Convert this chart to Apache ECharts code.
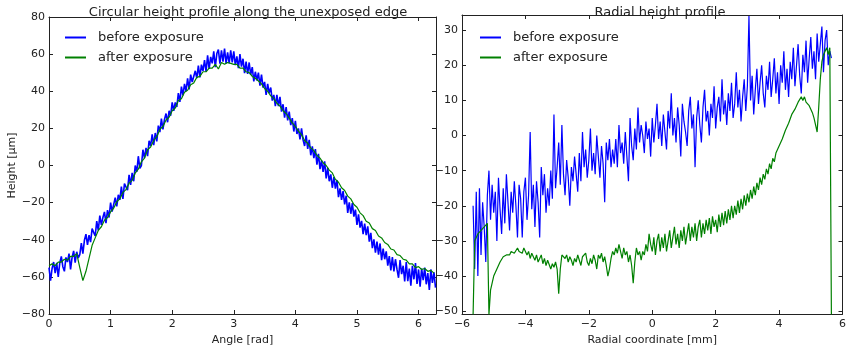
<!DOCTYPE html>
<html>
<head>
<meta charset="utf-8">
<script src="https://cdn.jsdelivr.net/npm/echarts@6/dist/echarts.min.js"></script>
<style>
  html, body { margin: 0; padding: 0; background: #fff; }
  #chart { width: 849px; height: 351px; }
</style>
</head>
<body>
<div id="chart"></div>
<script>
// ---- Circular profile (left panel): sampled along the edge angle ----
const angleStartBefore = 0;
const angleStepBefore = 0.025;
const circularBefore = [
  -55, -62, -55.5, -52, -58, -52.5, -60, -52.5, -49, -54.5, -57, -49.5, -52, -47.5, -56, -49.5,
  -46, -52.3, -46.5, -49.8, -48, -41.8, -47.5, -40.3, -37, -42.8, -37.5, -41.3, -34, -36, -38, -30,
  -35, -27, -32, -28, -25, -31, -24, -28, -20, -24.8, -25.5, -17.3, -22, -15.8, -18.5, -11.3,
  -18, -9.8, -11.5, -13.3, -5, -10.5, -4, -8.5, 0, -3.5, 5, -1.5, 0, 8.5, 4, 9.5,
  5, 13.3, 10.5, 16.8, 11, 17.5, 13, 21.5, 18, 25.3, 19.5, 24.8, 28, 23.3, 29.5, 26.8,
  34, 29.5, 34, 31.5, 39, 34.3, 42.5, 37.8, 44, 40, 47, 41, 49, 45, 44, 51,
  47, 53.8, 47.5, 54.3, 51, 56.8, 50.5, 59.3, 52, 58.5, 55, 61.5, 53, 60.3, 62.5, 54.8,
  62, 56, 63, 55, 61, 55, 62, 55.6, 61.5, 54.1, 58.8, 52.4, 60, 53.3, 57.5, 49.8,
  56, 49.3, 55.5, 48.8, 53, 45.3, 50.5, 45.8, 50, 43, 49, 42, 45, 38, 44, 39,
  42, 35, 38, 32, 38, 32, 37, 29, 33, 25.8, 31.5, 24.3, 29, 21.8, 25.5, 18.3,
  24, 17, 20, 14, 20, 13.8, 10.5, 16.3, 9, 13.8, 5.5, 10.3, 4, 8.8, 0.5, 6.3,
  -2, 2.8, -3.5, 2.2, -7, -1.3, -8.5, -4.8, -12, -6.3, -12.5, -7.8, -17, -12.3, -18.5, -13.8,
  -21, -16.3, -25.5, -19.8, -26, -20.3, -27.5, -23.8, -32, -26.3, -33.5, -29.8, -37, -31.3, -37.5, -32.8,
  -41, -36.3, -44.5, -39.8, -47, -41, -48, -42, -51, -44.8, -50.5, -46.3, -54, -48.8, -56.5, -49.3,
  -57, -50.5, -56, -60.5, -51, -58.5, -54, -62.5, -52, -62.3, -55.5, -64.8, -54, -61.3, -52.5, -63.8,
  -56, -65.3, -55.5, -61.8, -55, -64, -58, -67, -56, -63.3, -57.5, -65.8
];

const angleStartAfter = 0;
const angleStepAfter = 0.05;
const circularAfter = [
  -54, -53, -54, -52, -52, -50.5, -51, -49, -49, -47.5,
  -55, -62, -57, -50, -43, -39, -35, -33, -29.5, -28,
  -25, -23, -19.5, -18, -14.5, -13, -9.5, -8, -4, -2,
  2, 4, 8.5, 10, 13.5, 15.5, 19.5, 21, 24.5, 26,
  29.5, 31, 35, 36, 39.5, 40.5, 43.5, 44.5, 47.5, 48,
  50.5, 50.5, 52.5, 52.5, 54.5, 52, 55.5, 54.5, 55.5, 55,
  54.5, 54.5, 52.5, 52.5, 50.5, 50, 48, 47, 45.5, 44,
  41.5, 40, 37.5, 36, 33.5, 32, 29.5, 28, 25.5, 23,
  21, 18.5, 16.5, 13.5, 12, 9.5, 8, 5.5, 4, 1.5,
  0, -2.5, -4, -7.5, -9, -12, -13.5, -16.5, -18, -21,
  -22.5, -25.5, -27, -30, -31, -34, -35, -38, -39, -41.5,
  -42.5, -45, -45.5, -48, -48.5, -50.5, -51, -53, -53, -55,
  -54.5, -56, -55.5, -57, -56.5, -58
];

// ---- Radial profile (right panel): sampled along the radius ----
const radialStart = -5.65;
const radialStep = 0.05;
const radialBefore = [
  -20, -38, -16, -40, -15, -34, -19, -26, -36, -17,
  -10, -24, -14, -22, -16, -30, -12, -21, -28, -15,
  -25, -11, -19, -27, -16, -22, -13, -20, -29, -14,
  -18, -29, -16, -12, -24, -17, 1, -21, -14, -26,
  -13, -19, -29, -9, -17, -11, -22, -15, -20, -10,
  -18, 6, -15, -9, -2, -14, 3, -11, -17, -7,
  -12, -20, -9, -13, -6, -11, -16, -5, -13, 1,
  -9, -4, -12, -7, 2, -10, -5, -11, 0, -6,
  -12, -3, -8, -19, -2, -7, -1, -9, -4, -8,
  -1, -9, 3, -5, -2, -8, 1, -6, -13, 5,
  -3, -7, 2, -4, 8, -2, 3, 0, -5, 4,
  -1, 2, -6, 5, -2, 3, 9, -1, 4, -3,
  6, 1, -4, 7, 2, 12, 0, 5, -2, 8,
  3, -6, 9, 4, 1, -3, 7, 11, 2, 6,
  -9, 5, 10, 3, -2, 8, 13, 4, 7, 0,
  9, 5, 14, 2, 8, 11, 4, 16, 6, 10,
  3, 12, 7, 15, 5, 9, 18, 8, 13, 4,
  11, 16, 7, 14, 34, 10, 17, 6, 13, 19,
  9, 15, 20, 12, 8, 17, 13, 21, 11, 16,
  22, 12, 18, 9, 20, 15, 24, 13, 19, 11,
  21, 16, 25, 14, 20, 26, 17, 12, 23, 18,
  27, 15, 22, 28, 19, 24, 16, 29, 21, 26,
  31, 18, 27, 30, 20, 24, 22
];
const radialAfter = [
  -51, -30, -29, -28, -27.5, -27, -26.5, -26, -25.5, -25,
  -51, -44, -42, -40, -39, -38, -37, -36, -35.5, -34.5,
  -35, -34, -33.5, -34, -33, -32.5, -33.5, -33, -32, -33,
  -32.5, -33.5, -32, -33, -34, -33, -35, -33.5, -34.5, -35.5,
  -34, -36, -35, -34, -36.5, -35, -37, -35.5, -36, -38,
  -36.5, -37.5, -36, -38, -45, -38, -34, -33.5, -35, -34,
  -36, -34.5, -35.5, -37, -35, -36, -34, -35.5, -37, -34.5,
  -35, -33.5, -36, -37, -35, -36.5, -34, -35.5, -38, -34,
  -35, -33.5, -36, -34.5, -37, -40, -38, -35, -33, -34,
  -32, -33.5, -31, -33, -35, -32, -34, -33, -36, -34,
  -37, -42, -36, -32, -34, -33, -35.5, -33, -34, -31,
  -33, -28, -31, -33, -29, -34, -30, -28, -33, -29,
  -32, -28, -33, -30, -27, -32, -29, -26, -31, -28,
  -32, -27, -30, -26, -31, -28, -25, -30, -26, -29,
  -25, -30, -26, -24, -29, -25, -28, -24, -27, -23.5,
  -28, -23, -26, -24, -27.5, -22.5, -26, -22, -25.5, -21.5,
  -25, -21, -24, -20, -23.5, -20, -22.5, -18.5, -22, -18,
  -21, -17, -20, -16.5, -19, -15.5, -18, -14.5, -17, -13.5,
  -15.5, -12, -14, -11, -12.5, -9.5, -11, -8, -9.5, -6.5,
  -7.5, -5, -5.5, -3, -3.5, -1, -0.5, 1.5, 2, 3.5,
  4, 6, 5.5, 7.5, 8, 9.5, 9, 11, 10, 11,
  9.5, 10, 8.5, 9, 6.5, 5, 3, 1, 8, 16,
  21, 23, 24, 25, 23, 25, -51
];

const angleTicks = [0, 1, 2, 3, 4, 5, 6];
const heightTicks = [-80, -60, -40, -20, 0, 20, 40, 60, 80];
const radialTicks = [-6, -4, -2, 0, 2, 4, 6];
const radialHeightTicks = [-50, -40, -30, -20, -10, 0, 10, 20, 30];

const seriesNames = ['before exposure', 'after exposure'];
const seriesColors = ['#0000ff', '#008000'];

function toPairs(start, step, values) {
  return values.map((v, i) => [+(start + i * step).toFixed(4), v]);
}

const FONT = 'DejaVu Sans';
const INK = '#222';
const minusLabel = v => String(v).replace('-', '\u2212');

function xAxisPair(gridIndex, min, max, ticks, name) {
  const common = {
    gridIndex, type: 'value', min, max,
    axisLine: { show: true, onZero: false, lineStyle: { color: INK, width: 1 } },
    axisTick: { show: true, inside: true, length: 4, customValues: ticks, lineStyle: { color: INK } },
    splitLine: { show: false }
  };
  return [
    Object.assign({}, common, {
      position: 'bottom',
      name, nameLocation: 'middle', nameGap: 21,
      nameTextStyle: { fontFamily: FONT, fontSize: 11, color: INK },
      axisLabel: { show: true, customValues: ticks, formatter: minusLabel,
        fontFamily: FONT, fontSize: 11, color: INK, margin: 5 }
    }),
    Object.assign({}, common, { position: 'top', axisLabel: { show: false } })
  ];
}

function yAxisPair(gridIndex, min, max, ticks, name) {
  const common = {
    gridIndex, type: 'value', min, max,
    axisLine: { show: true, onZero: false, lineStyle: { color: INK, width: 1 } },
    axisTick: { show: true, inside: true, length: 4, customValues: ticks, lineStyle: { color: INK } },
    splitLine: { show: false }
  };
  const left = Object.assign({}, common, {
    position: 'left',
    axisLabel: { show: true, customValues: ticks, formatter: minusLabel,
      fontFamily: FONT, fontSize: 11, color: INK, margin: 4 }
  });
  if (name) {
    left.name = name;
    left.nameLocation = 'middle';
    left.nameGap = 30;
    left.nameRotate = 90;
    left.nameTextStyle = { fontFamily: FONT, fontSize: 11, color: INK };
  }
  return [left, Object.assign({}, common, { position: 'right', axisLabel: { show: false } })];
}

const chart = echarts.init(document.getElementById('chart'), null, { renderer: 'canvas' });

const option = {
  animation: false,
  backgroundColor: '#fff',
  title: [
    { text: 'Circular height profile along the unexposed edge', left: 243, top: 1, textAlign: 'center',
      textStyle: { fontFamily: FONT, fontSize: 13, fontWeight: 'normal', color: INK } },
    { text: 'Radial height profile', left: 655, top: 1, textAlign: 'center',
      textStyle: { fontFamily: FONT, fontSize: 13, fontWeight: 'normal', color: INK } }
  ],
  legend: [
    { left: 60, top: 26, orient: 'vertical', itemGap: 7, itemWidth: 21, itemHeight: 2, icon: 'rect',
      data: seriesNames, selectedMode: false,
      textStyle: { fontFamily: FONT, fontSize: 13, color: INK, padding: [0, 0, 0, 7] } },
    { left: 475, top: 26, orient: 'vertical', itemGap: 7, itemWidth: 21, itemHeight: 2, icon: 'rect',
      data: seriesNames, selectedMode: false,
      textStyle: { fontFamily: FONT, fontSize: 13, color: INK, padding: [0, 0, 0, 7] } }
  ],
  grid: [
    { left: 49, top: 17, width: 387, height: 300 },
    { left: 462, top: 15, width: 386, height: 302 }
  ],
  xAxis: [
    ...xAxisPair(0, 0, 2 * Math.PI, angleTicks, 'Angle [rad]'),
    ...xAxisPair(1, -6, 6, radialTicks, 'Radial coordinate [mm]')
  ],
  yAxis: [
    ...yAxisPair(0, -80, 80, heightTicks, 'Height [μm]'),
    ...yAxisPair(1, -50.8, 34.3, radialHeightTicks, null)
  ],
  series: [
    { name: seriesNames[0], type: 'line', xAxisIndex: 0, yAxisIndex: 0, showSymbol: false, symbol: 'none',
      color: seriesColors[0], lineStyle: { width: 1.6, color: seriesColors[0] },
      data: toPairs(angleStartBefore, angleStepBefore, circularBefore) },
    { name: seriesNames[1], type: 'line', xAxisIndex: 0, yAxisIndex: 0, showSymbol: false, symbol: 'none',
      color: seriesColors[1], lineStyle: { width: 1.2, color: seriesColors[1] },
      data: toPairs(angleStartAfter, angleStepAfter, circularAfter) },
    { name: seriesNames[0], type: 'line', xAxisIndex: 2, yAxisIndex: 2, showSymbol: false, symbol: 'none',
      color: seriesColors[0], lineStyle: { width: 1.2, color: seriesColors[0] },
      data: toPairs(radialStart, radialStep, radialBefore) },
    { name: seriesNames[1], type: 'line', xAxisIndex: 2, yAxisIndex: 2, showSymbol: false, symbol: 'none',
      color: seriesColors[1], lineStyle: { width: 1.2, color: seriesColors[1] },
      data: toPairs(radialStart, radialStep, radialAfter) }
  ]
};

chart.setOption(option);
</script>
</body>
</html>
